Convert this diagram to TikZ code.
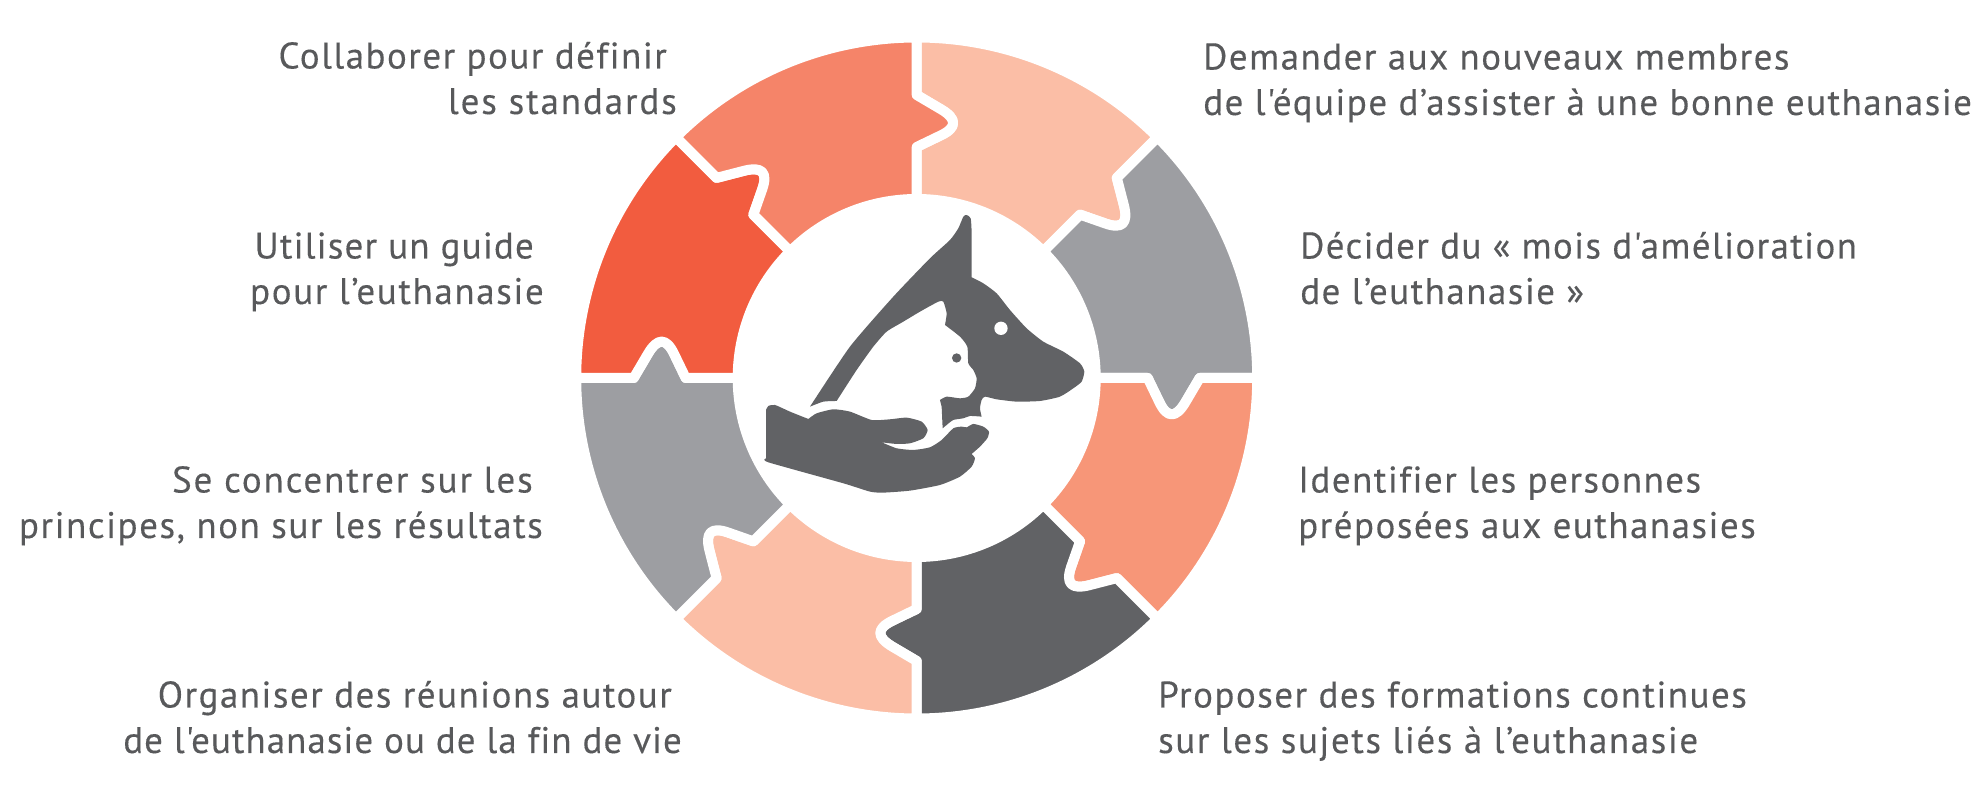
\documentclass[tikz,border=0pt]{standalone}
\usetikzlibrary{calc}
\usepackage{fontspec}
\newfontfamily\labfont[LetterSpace=4,Ligatures=NoCommon,FakeBold=0.25]{PT Sans}
\newcommand{\ls}[2]{{\addfontfeature{LetterSpace=#1}#2}}
\definecolor{cpeach}{HTML}{FBBEA6}
\definecolor{ccoral}{HTML}{F58469}
\definecolor{cred}{HTML}{F25C3F}
\definecolor{cgray}{HTML}{9D9EA2}
\definecolor{csalmon}{HTML}{F79678}
\definecolor{cdark}{HTML}{616265}
\definecolor{ctext}{HTML}{58595B}
\newcommand{\piece}[2]{%
  \pgfmathsetmacro{\angB}{#1}\pgfmathsetmacro{\angA}{#1+45}
  \pgfmathsetmacro{\tipA}{\angA-10.8}\pgfmathsetmacro{\tipB}{\angB-10.8}
  \filldraw[piecestyle,fill=#2]
    (\angB:340.5) arc[start angle=\angB,end angle=\angA,radius=340.5]
    -- (\angA:283) -- ($(\angA:283)!.5!(\tipA:259)$)
       .. controls ($(\angA:283)!.833!(\tipA:259)$) and ($(\angA:231)!.833!(\tipA:259)$) .. ($(\angA:231)!.5!(\tipA:259)$)
    -- (\angA:231) -- (\angA:179)
    arc[start angle=\angA,end angle=\angB,radius=179]
    -- (\angB:231) -- ($(\angB:231)!.5!(\tipB:259)$)
       .. controls ($(\angB:231)!.833!(\tipB:259)$) and ($(\angB:283)!.833!(\tipB:259)$) .. ($(\angB:283)!.5!(\tipB:259)$)
    -- (\angB:283) -- cycle;
}
\tikzset{
  piecestyle/.style={draw=white,line width=10pt,line join=round},
  lab/.style={font=\labfont\fontsize{37}{45.5}\selectfont,text=ctext,inner sep=0pt},
  iconfill/.style={fill=cdark,draw=none},
  curve/.style={smooth,tension=.35}
}
\begin{document}
\begin{tikzpicture}[x=1pt,y=1pt]
\useasboundingbox (0,0) rectangle (1982,792);
\begin{scope}[shift={(916.7,414)}]
\piece{45}{cpeach}
\piece{0}{cgray}
\piece{-45}{csalmon}
\piece{-90}{cdark}
\piece{-135}{cpeach}
\piece{180}{cgray}
\piece{135}{cred}
\piece{90}{ccoral}
\end{scope}
\begin{scope}[shift={(750,592)},x=0.3333pt,y=-0.3333pt]
\path[iconfill] plot[curve] coordinates {(180,620)(300,440)(430,290)(540,175)(600,120)(625,85)(640,50)(650,45)(662,55)(665,100)(665,232)}
 -- plot[curve] coordinates {(665,232)(700,250)(740,280)(780,330)(830,385)(880,425)(940,455)(990,490)(1003,515)(995,545)(970,565)(930,590)(870,603)(800,605)(740,598)(705,590)(695,600)(690,625)(695,650)}
 -- plot[curve] coordinates {(695,650)(660,648)(640,655)(610,660)(590,675)(578,685)}
 -- (575,620) -- (570,600) -- plot[curve] coordinates {(570,600)(590,590)(630,595)(655,590)(675,565)(680,535)(670,510)(655,490)(652,440)(630,410)(585,375)}
 -- plot[curve] coordinates {(585,375)(590,340)(580,305)(565,305)(510,335)(460,365)(410,395)(370,440)(320,510)(260,603)}
 -- plot[curve] coordinates {(260,603)(220,605)(180,620)} -- cycle;
\fill[white] (753,385) circle[radius=20];
\fill[cdark] (620,474) circle[radius=14];
\path[iconfill] plot[curve] coordinates {(48,630)(55,618)(75,615)(120,635)(175,657)}
 -- plot[curve] coordinates {(175,657)(200,640)(250,628)(300,635)(365,660)(420,658)(470,653)(515,665)(533,690)(520,715)(480,730)(440,732)(395,727)}
 -- plot[curve] coordinates {(395,727)(440,745)(490,750)(540,742)(575,720)(610,685)(635,680)(650,682)(670,672)(700,680)(717,695)(712,715)(690,740)(665,762)}
 -- plot[curve] coordinates {(665,762)(675,775)(665,800)(630,830)(570,855)(480,872)(400,878)(360,875)(280,850)(55,787)(48,775)} -- cycle;
\end{scope}
\node[lab,align=right,anchor=base east] (t1) at (677,792-114) {Collaborer pour définir\hspace*{10pt}\\\ls{5.1}{les standards}};
\node[lab,align=right,anchor=base east] (t2) at (544,792-304) {\ls{3.2}{Utiliser un guide}\hspace*{10pt}\\\ls{4.4}{pour l’euthanasie}};
\node[lab,align=right,anchor=base east] (t3) at (543,792-538) {\ls{5.1}{Se concentrer sur les}\hspace*{10pt}\\\ls{4.2}{principes, non sur les résultats}};
\node[lab,align=right,anchor=base east] (t4) at (682,792-753) {Organiser des réunions autour\hspace*{10pt}\\\ls{2.8}{de l'euthanasie ou de la fin de vie}};
\node[lab,align=left,anchor=base west] (t5) at (1203,792-115) {Demander aux nouveaux membres\\de l'équipe d’assister à une bonne euthanasie};
\node[lab,align=left,anchor=base west] (t6) at (1300,792-304) {\ls{3.7}{Décider du « mois d'amélioration}\\de l’euthanasie »};
\node[lab,align=left,anchor=base west] (t7) at (1298,792-538) {Identifier les personnes\\préposées aux euthanasies};
\node[lab,align=left,anchor=base west] (t8) at (1158,792-753) {Proposer des formations continues\\\ls{4.3}{sur les sujets liés à l’euthanasie}};
\end{tikzpicture}
\end{document}
